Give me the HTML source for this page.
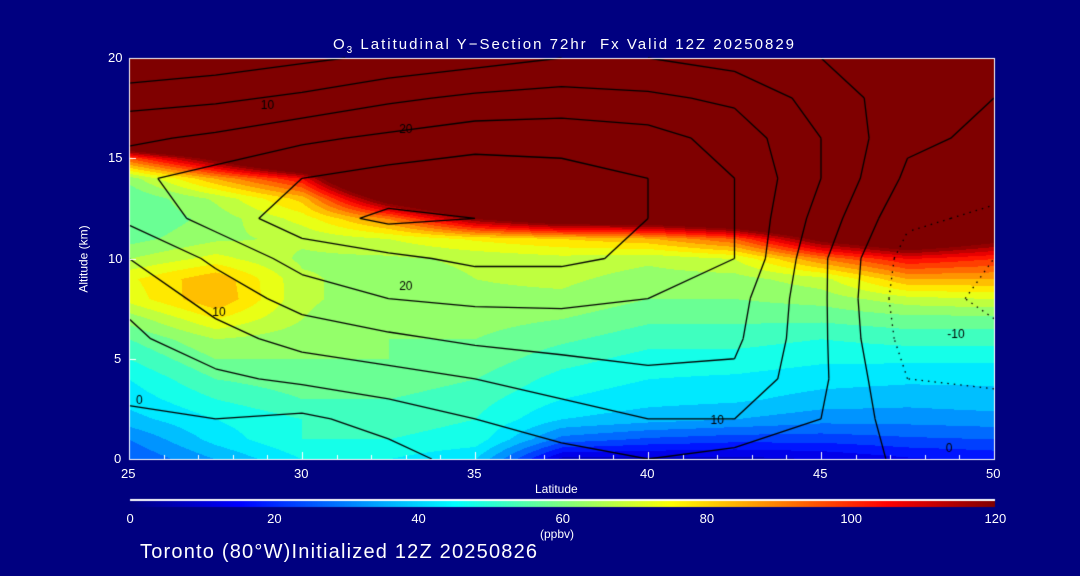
<!DOCTYPE html>
<html><head><meta charset="utf-8"><style>
html,body{margin:0;padding:0;background:#000080;}
#wrap{position:relative;width:1080px;height:576px;background:#000080;overflow:hidden;font-family:"Liberation Sans",sans-serif;color:#fff;}
.t{position:absolute;font-size:13px;white-space:nowrap;}
canvas{position:absolute;left:0;top:0;}
</style></head><body>
<div id="wrap">
<canvas id="cv" width="1080" height="576"></canvas>
<div class="t" style="left:333px;top:36px;font-size:15px;letter-spacing:2px;">O<sub style="font-size:10px">3</sub> Latitudinal Y&#8722;Section 72hr&nbsp; Fx Valid 12Z 20250829</div>
<div class="t" style="left:50px;top:252px;transform:rotate(-90deg);font-size:12px;">Altitude (km)</div>
<div class="t" style="left:535px;top:482px;font-size:12px;">Latitude</div>
<div class="t" style="left:540px;top:527px;font-size:12px;">(ppbv)</div>
<div class="t" style="left:140px;top:541px;font-size:20px;letter-spacing:1.2px;">Toronto (80°W)Initialized 12Z 20250826</div>
<div id="labels"></div>
</div>
<script>
const lats=[25,27.5,30,32.5,35,37.5,40,42.5,45,47.5,50];
const ozAlts=[0,1,2,3,4,5,6,7,8,9,10,11,12,13,14,15,16,17,18,19,20];
const ozone=[
[25,35,45,45,40,8,8,8,10,14,16],
[30,42,50,50,48,28,24,22,22,24,25],
[38,45,50,52,50,40,37,35,32,32,33],
[42,50,55,55,52,45,42,41,38,37,38],
[45,55,58,58,55,48,45,44,42,41,41],
[50,60,60,60,58,52,48,48,46,46,46],
[55,65,62,60,60,56,52,52,50,52,52],
[62,75,65,60,62,60,56,56,56,58,58],
[72,85,66,62,64,64,60,60,62,68,70],
[74,84,66,62,65,66,63,63,68,85,85],
[65,72,64,64,66,68,66,70,90,105,100],
[58,64,66,70,76,80,84,95,125,140,125],
[55,62,72,90,120,135,135,145,160,170,160],
[55,66,82,130,160,170,175,180,180,180,175],
[62,85,105,170,180,180,180,180,180,180,180],
[95,125,160,180,180,180,180,180,180,180,180],
[160,175,180,180,180,180,180,180,180,180,180],
[180,180,180,180,180,180,180,180,180,180,180],
[180,180,180,180,180,180,180,180,180,180,180],
[180,180,180,180,180,180,180,180,180,180,180],
[180,180,180,180,180,180,180,180,180,180,180]];
const windAlts=[0,2,4,6,8,10,12,14,16,18,20];
const wind=[
[-2,-1,-3,-2,2,3,5,3,3,-1,0],
[-1,0,-1,2,5,8,10,10,5,-3,-2],
[2,4,6,8,10,12,14,14,6,-5,-6],
[4,8,12,14,16,17,17,16,6,-7,-9],
[6,12,17,20,21,21,20,17,6,-8,-11],
[10,16,22,24,26,26,24,20,6,-7,-10],
[16,22,28,31,30,28,25,20,8,-4,-6],
[19,22,25,27,28,27,25,20,10,-1,-3],
[14,16,19,21,23,23,22,18,10,1,-1],
[8,9,11,14,16,17,16,14,8,2,0],
[0,2,4,6,8,10,10,8,5,2,1]];
const xTicks=[25,30,35,40,45,50];
const yTicks=[0,5,10,15,20];
const cbTicks=[0,20,40,60,80,100,120];
const contourLevels=[-15,-10,-5,0,5,10,15,20,25,30];
const contourLabelText=['10','20','20','10','10','0','-10','0'];
const contourLabelLat=[29,33,33,27.6,42,25.3,48.9,48.7];
const contourLabelAlt=[17.6,16.4,8.6,7.3,1.9,2.9,6.2,0.5];

const PL=129,PR=994,PT=58,PB=459;
const xS=v=>PL+(v-25)/25*(PR-PL);
const yS=v=>PB-(v/20)*(PB-PT);
function jet(t){t=Math.max(0,Math.min(1,t));
 const f=x=>Math.max(0,Math.min(1,x));
 const r=f(Math.min(4*t-1.5,-4*t+4.5)),g=f(Math.min(4*t-0.5,-4*t+3.5)),b=f(Math.min(4*t+0.5,-4*t+2.5));
 return [r*255|0,g*255|0,b*255|0];}
function interp(grid,ys,lat,alt){
 let i=Math.min(lats.length-2,Math.max(0,Math.floor((lat-25)/2.5)));
 let fx=(lat-lats[i])/(lats[i+1]-lats[i]);
 let j=0;while(j<ys.length-2&&alt>ys[j+1])j++;
 let fy=(alt-ys[j])/(ys[j+1]-ys[j]);
 const a=grid[j][i],b=grid[j][i+1],c=grid[j+1][i],d=grid[j+1][i+1];
 return (a*(1-fx)+b*fx)*(1-fy)+(c*(1-fx)+d*fx)*fy;}
const cv=document.getElementById('cv'),ctx=cv.getContext('2d');
const W=PR-PL,H=PB-PT;
const img=ctx.createImageData(W,H);
for(let py=0;py<H;py++){const alt=(PB-(PT+py))/(PB-PT)*20;
 for(let px=0;px<W;px++){const lat=25+px/W*25;
  let v=interp(ozone,ozAlts,lat,alt);
  v=Math.floor(v/5)*5+2.5; if(v>120)v=120;
  const c=jet(v/120);const k=(py*W+px)*4;
  img.data[k]=c[0];img.data[k+1]=c[1];img.data[k+2]=c[2];img.data[k+3]=255;}}
ctx.putImageData(img,PL,PT);
ctx.strokeStyle='#000';ctx.lineWidth=1.3;
contourLevels.forEach(L=>{
 ctx.setLineDash(L<0?[1.5,5]:[]);
 ctx.beginPath();
 for(let j=0;j<windAlts.length-1;j++)for(let i=0;i<lats.length-1;i++){
  const P=[[lats[i],windAlts[j],wind[j][i]],[lats[i+1],windAlts[j],wind[j][i+1]],[lats[i+1],windAlts[j+1],wind[j+1][i+1]],[lats[i],windAlts[j+1],wind[j+1][i]]];
  const pts=[];
  for(let e=0;e<4;e++){const A=P[e],B=P[(e+1)%4];
   if((A[2]<L)!==(B[2]<L)){const t=(L-A[2])/(B[2]-A[2]);pts.push([A[0]+t*(B[0]-A[0]),A[1]+t*(B[1]-A[1])]);}}
  for(let k=0;k+1<pts.length;k+=2){ctx.moveTo(xS(pts[k][0]),yS(pts[k][1]));ctx.lineTo(xS(pts[k+1][0]),yS(pts[k+1][1]));}
 }
 ctx.stroke();});
ctx.setLineDash([]);
ctx.fillStyle='#000';ctx.font='12px "Liberation Sans", sans-serif';ctx.textAlign='center';ctx.textBaseline='middle';
contourLabelText.forEach((s,i)=>ctx.fillText(s,xS(contourLabelLat[i]),yS(contourLabelAlt[i])));
ctx.strokeStyle='#fff';ctx.lineWidth=1;
ctx.strokeRect(PL+.5,PT+.5,W,H);
ctx.beginPath();
for(let v=25;v<=50;v++){const x=Math.round(xS(v))+.5;ctx.moveTo(x,PB);ctx.lineTo(x,PB-(v%5?4:7));}
yTicks.forEach(v=>{const y=Math.round(yS(v))+.5;ctx.moveTo(PL,y);ctx.lineTo(PL+7,y);});
ctx.stroke();
const CB0=130,CB1=995;
ctx.fillStyle='#fff';ctx.fillRect(CB0,499,CB1-CB0,2);
for(let x=CB0;x<CB1;x++){const c=jet((x-CB0)/(CB1-CB0));ctx.fillStyle=`rgb(${c[0]},${c[1]},${c[2]})`;ctx.fillRect(x,501,1,6);}
const lab=document.getElementById('labels');
function addLabel(txt,x,y,name){const d=document.createElement('div');d.className='t';d.textContent=txt;d.style.left=x+'px';d.style.top=y+'px';
 
 
 lab.appendChild(d);return d;}
xTicks.forEach(v=>{addLabel(v,xS(v)-8,466,'x-tick-label');});
yTicks.forEach(v=>{addLabel(v,v>=10?108:114,yS(v)-8,'y-tick-label');});
cbTicks.forEach(v=>{const x=CB0+v/120*(CB1-CB0);const w=String(v).length*7;addLabel(v,x-w/2,511,'colorbar-tick-label');});
</script>
</body></html>
